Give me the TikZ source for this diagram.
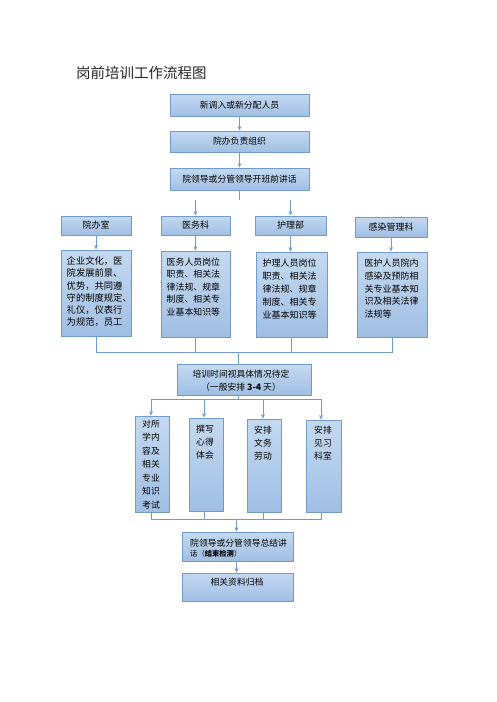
\documentclass[tikz,border=0pt]{standalone}
\usepackage{fontspec}
\setmainfont{Noto Sans CJK SC}
\usetikzlibrary{arrows.meta}
\definecolor{lineblue}{HTML}{6F9BD1}
\definecolor{boxedge}{HTML}{7199C9}
\definecolor{boxtop}{HTML}{C4D9F1}
\definecolor{boxbot}{HTML}{A0BEE3}
\tikzset{
  box/.style={draw=boxedge, line width=0.9pt, top color=boxtop, bottom color=boxbot,
    inner sep=0pt, font=\fontsize{8.8}{11}\selectfont},
  txt/.style={inner sep=0pt, align=left, anchor=north west},
  conn/.style={draw=lineblue, line width=0.9pt},
  arr/.style={conn, -{Stealth[length=4.5pt,width=4pt]}},
}
\begin{document}
\begin{tikzpicture}[x=1pt,y=-1pt]
\useasboundingbox[fill=white] (0,0) rectangle (496,702);

% title
\node[inner sep=0pt, anchor=west, font=\fontsize{14.5}{16}\selectfont, text=black!85] (title) at (76,73) {岗前培训工作流程图};

% top chain
\node[box, minimum width=139pt, minimum height=22pt] (b1) at (239.5,105) {新调入或新分配人员};
\node[box, minimum width=139pt, minimum height=21pt] (b2) at (239.5,141.5) {院办负责组织};
\node[box, minimum width=139pt, minimum height=22pt] (b3) at (239.5,179) {院领导或分管领导开班前讲话};
\draw[arr] (b1) -- (b2);
\draw[arr] (b2) -- (b3);

% department headers
\node[box, minimum width=70pt, minimum height=19pt, font=\fontsize{9}{11}\selectfont] (yb) at (96,225.5) {院办室};
\node[box, minimum width=69pt, minimum height=19pt, font=\fontsize{9}{11}\selectfont] (yw) at (195.5,225.5) {医务科};
\node[box, minimum width=71pt, minimum height=19pt, font=\fontsize{9}{11}\selectfont] (hl) at (290.5,225.5) {护理部};
\node[box, minimum width=72pt, minimum height=20pt, font=\fontsize{9}{11}\selectfont] (gr) at (391,227) {感染管理科};

\coordinate (s1) at (239.5,200);
\coordinate (a1) at (195.5,200);
\coordinate (a2) at (290.5,200);
\draw[conn] (b3) -- (s1);
\draw[arr] (a1) -- (yw);
\draw[arr] (a2) -- (hl);

% detail boxes
\node[box, minimum width=70pt, minimum height=86pt] (ybd) at (96,293) {};
\node[box, minimum width=69pt, minimum height=86pt] (ywd) at (195.5,294) {};
\node[box, minimum width=71pt, minimum height=85pt] (hld) at (291.5,294.5) {};
\node[box, minimum width=70pt, minimum height=85pt] (grd) at (392,294.5) {};

\node[txt, font=\fontsize{9.3}{12.2}\selectfont] (ybt) at (66.5,256.5) {企业文化，医\\院发展前景、\\优势，共同遵\\守的制度规定、\\礼仪，仪表行\\为规范，员工};
\node[txt, font=\fontsize{8.9}{12.5}\selectfont] (ywt) at (166.5,257.7) {医务人员岗位\\职责、相关法\\律法规、规章\\制度、相关专\\业基本知识等};
\node[txt, font=\fontsize{9}{12.9}\selectfont] (hlt) at (262.5,258.7) {护理人员岗位\\职责、相关法\\律法规、规章\\制度、相关专\\业基本知识等};
\node[txt, font=\fontsize{9}{12.8}\selectfont] (grt) at (364.5,258.7) {医护人员院内\\感染及预防相\\关专业基本知\\识及相关法律\\法规等};

\draw[arr] (yb) -- (ybd);
\draw[arr] (yw) -- (ywd);
\draw[arr] (hl.south) -- (hl.south |- hld.north);
\draw[arr] (gr.south) -- (gr.south |- grd.north);

% merge
\coordinate (mline) at (0,352);
\draw[conn] (ybd.south) |- (mline -| grd.south) -- (grd.south);
\draw[conn] (ywd.south) -- (ywd.south |- mline);
\draw[conn] (hld.south) -- (hld.south |- mline);

\node[box, minimum width=134pt, minimum height=31pt] (px) at (244,379.5) {};
\node[inner sep=0pt, align=center, font=\fontsize{8.8}{13}\selectfont] (pxt) at (241,380.5) {培训时间视具体情况待定\\（一般安排 \textbf{3-4} 天）};
\coordinate (c2) at (238.5,352);
\draw[conn] (c2) -- (c2 |- px.north);

% four tasks
\node[box, minimum width=34pt, minimum height=96pt] (k1) at (152,464) {};
\node[box, minimum width=34pt, minimum height=93pt] (k2) at (206,464.5) {};
\node[box, minimum width=34pt, minimum height=93pt] (k3) at (264,465.5) {};
\node[box, minimum width=35pt, minimum height=92pt] (k4) at (323.5,466) {};

\node[txt, font=\fontsize{8.8}{13.5}\selectfont] (k1t) at (142,419.7) {对所\\学内\\容及\\相关\\专业\\知识\\考试};
\node[txt, font=\fontsize{8.8}{13}\selectfont] (k2t) at (196,424.7) {撰写\\心得\\体会};
\node[txt, font=\fontsize{8.8}{13}\selectfont] (k3t) at (254,425.7) {安排\\文务\\劳动};
\node[txt, font=\fontsize{8.8}{13}\selectfont] (k4t) at (314,425.7) {安排\\见习\\科室};

\coordinate (c3) at (238.5,399);
\coordinate (d1) at (151,399);
\coordinate (d2) at (204,399);
\coordinate (d3) at (263,399);
\coordinate (d4) at (321,399);
\draw[conn] (px.south -| c3) -- (c3);
\draw[conn] (d1) -- (d4);
\draw[arr] (d1) -- (d1 |- k1.north);
\draw[arr] (d2) -- (d2 |- k2.north);
\draw[arr] (d3) -- (d3 |- k3.north);
\draw[arr] (d4) -- (d4 |- k4.north);

% bottom merge
\coordinate (e1) at (151,519);
\coordinate (e2) at (204,519);
\coordinate (e3) at (263,519);
\coordinate (e4) at (321,519);
\draw[conn] (e1 |- k1.south) -- (e1) -- (e4) -- (e4 |- k4.south);
\draw[conn] (e2 |- k2.south) -- (e2);
\draw[conn] (e3 |- k3.south) -- (e3);

\node[box, minimum width=111pt, minimum height=29pt] (zj) at (237.5,546.5) {};
\node[txt, font=\fontsize{8.8}{10}\selectfont] (zjt) at (190,538.8) {院领导或分管领导总结讲\\{\fontsize{7.3}{9}\selectfont 话（\textbf{结束检测}）}};
\coordinate (f1) at (236.5,519);
\draw[arr] (f1) -- (f1 |- zj.north);

\node[box, minimum width=111pt, minimum height=28pt] (xg) at (237.5,587) {};
\node[inner sep=0pt, font=\fontsize{8.8}{11}\selectfont] (xgt) at (237,582) {相关资料归档};
\draw[arr] (zj.south -| f1) -- (f1 |- xg.north);
\end{tikzpicture}
\end{document}
